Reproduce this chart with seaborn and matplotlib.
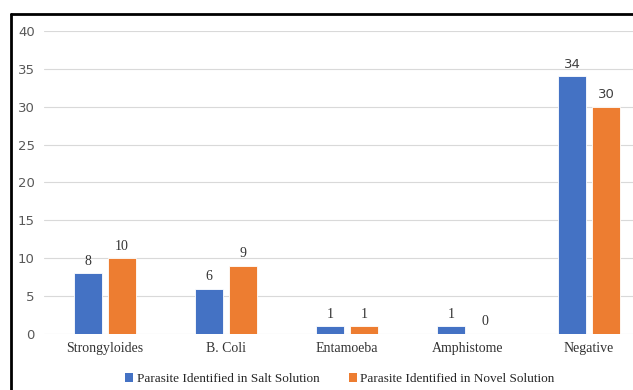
import matplotlib
matplotlib.use("Agg")
import matplotlib.pyplot as plt
import seaborn as sns
import pandas as pd
from matplotlib.patches import Patch
from matplotlib.lines import Line2D

categories = ["Strongyloides", "B. Coli", "Entamoeba", "Amphistome", "Negative"]
salt = [8, 6, 1, 1, 34]
novel = [10, 9, 1, 0, 30]
series = ["Parasite Identified in Salt Solution", "Parasite Identified in Novel Solution"]
colors = ["#4472C4", "#ED7D31"]

df = pd.DataFrame({
    "Parasite": categories * 2,
    "Count": salt + novel,
    "Method": [series[0]] * len(categories) + [series[1]] * len(categories),
})

sns.set_style("white")
fig = plt.figure(figsize=(6.33, 3.9), dpi=100)
ax = fig.add_axes([0.0703, 0.1436, 0.956, 0.777])

sns.barplot(data=df, x="Parasite", y="Count", hue="Method", palette=colors,
            width=0.56, gap=0.18, saturation=1, edgecolor="white", linewidth=0.6,
            ax=ax, legend=False)

ax.set_ylim(0, 40)
ax.set_xlim(-0.5, 4.5)
ax.set_yticks(range(0, 41, 5))
ax.yaxis.grid(True, color="#D9D9D9", linewidth=0.8)
ax.set_axisbelow(True)
for s in ax.spines.values():
    s.set_visible(False)
ax.set_xlabel("")
ax.set_ylabel("")
ax.tick_params(axis="y", length=0, pad=7, labelsize=9.5, labelcolor="#595959")
ax.tick_params(axis="x", length=0, pad=6)
for lab in ax.get_yticklabels():
    lab.set_family("DejaVu Sans")
for lab in ax.get_xticklabels():
    lab.set_family("Liberation Serif")
    lab.set_fontsize(10)
    lab.set_color("#333333")

for cont in ax.containers:
    labels = ax.bar_label(cont, fmt="%d", padding=4, fontsize=10,
                          family="Liberation Serif", color="#333333")
    labels[-1].set_family("DejaVu Sans")
    labels[-1].set_fontsize(9.5)
    labels[-1].set_color("#404040")

handles = [Patch(facecolor=c, edgecolor="none") for c in colors]
fig.legend(handles, series, loc="center", bbox_to_anchor=(0.537, 0.028), ncol=2,
           frameon=False, handlelength=0.6, handleheight=0.6, handletextpad=0.3,
           columnspacing=2.2, prop={"family": "Liberation Serif", "size": 9.5})

# outer frame (top and left visible)
fig.add_artist(Line2D([11 / 633, 1], [1 - 14 / 390, 1 - 14 / 390], color="black",
                      linewidth=2, transform=fig.transFigure))
fig.add_artist(Line2D([11 / 633, 11 / 633], [0, 1 - 14 / 390], color="black",
                      linewidth=2, transform=fig.transFigure))

plt.savefig("out.png", dpi=100)
